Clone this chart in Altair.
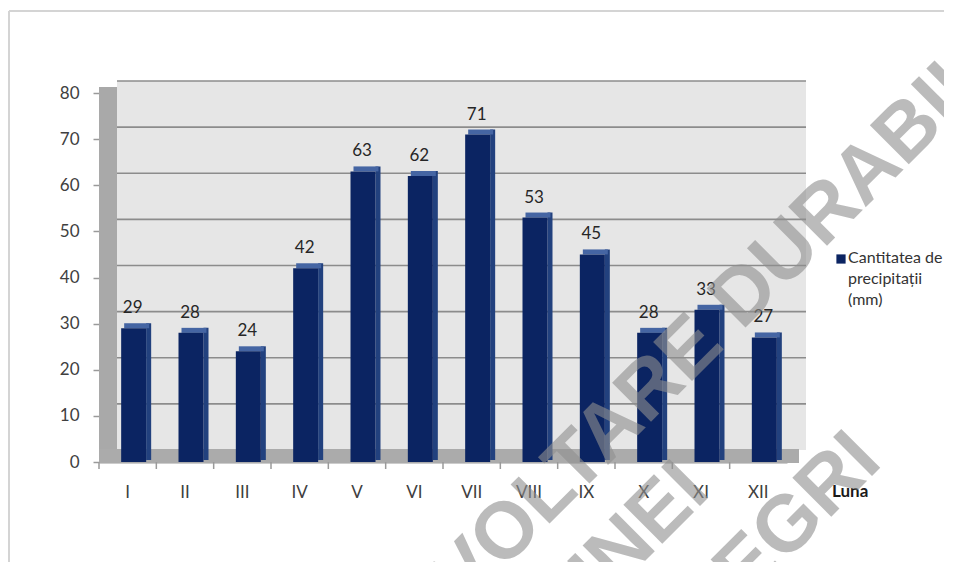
import altair as alt
import pandas as pd

# ---- data ----
months = ["I", "II", "III", "IV", "V", "VI", "VII", "VIII", "IX", "X", "XI", "XII"]
precip = [29, 28, 24, 42, 63, 62, 71, 53, 45, 28, 33, 27]
y_ticks = [0, 10, 20, 30, 40, 50, 60, 70, 80]
grid_values = [10, 20, 30, 40, 50, 60, 70, 80]
legend_lines = ["Cantitatea de", "precipitații", "(mm)"]
x_title = "Luna"
watermark_lines = ["DEZVOLTARE DURABILĂ", "A COMUNEI", "NEGRI"]

df = pd.DataFrame({"luna": months, "mm": precip})
grid_df = pd.DataFrame({"v": grid_values})
one = pd.DataFrame({"k": [0]})

W, H = 688, 369
STEP = W / len(months)
FONT = "Lato"
NAVY = "#0b2462"
PAD_R, PAD_B = 157, 100

Y_SCALE = alt.Scale(domain=[0, 80], nice=False)
Y_AXIS = alt.Axis(title=None, values=y_ticks, grid=False, domain=False,
                  tickSize=6, tickColor="#9a9a9a", tickWidth=1.5,
                  labelFont=FONT, labelFontSize=17, labelColor="#404040",
                  labelPadding=14)
X_SCALE = alt.Scale(paddingInner=0, paddingOuter=0)
X_AXIS = alt.Axis(title=None, ticks=False, labelAngle=0, labelPadding=22,
                  labelFont=FONT, labelFontSize=17, labelColor="#404040",
                  domainColor="#9a9a9a", domainWidth=2, grid=False)


def xq():
    return alt.X("luna:N", sort=months, scale=X_SCALE, axis=X_AXIS)


def yq(field="mm:Q"):
    return alt.Y(field, scale=Y_SCALE, axis=Y_AXIS)


def yd(v):
    return alt.Y(datum=v, scale=Y_SCALE, axis=Y_AXIS)


# chart frame (light grey border at top and left)
frame_left = alt.Chart(one).mark_rule(color="#d4d4d4", strokeWidth=2).encode(
    x=alt.value(-90), y=alt.value(-82), y2=alt.value(H + PAD_B))
frame_top = alt.Chart(one).mark_rule(color="#d4d4d4", strokeWidth=2).encode(
    x=alt.value(-90), x2=alt.value(W + PAD_R), y=alt.value(-82), y2=alt.value(-82))

# pseudo-3D walls
back_wall = alt.Chart(one).mark_rect(color="#e6e6e6", yOffset=-12, y2Offset=-12).encode(
    x=alt.value(18), x2=alt.value(707), y=yd(80), y2=alt.Y2(datum=0))
left_wall = alt.Chart(one).mark_rect(color="#a9a9a9", yOffset=-6, y2Offset=-6).encode(
    x=alt.value(0), x2=alt.value(18), y=yd(80), y2=alt.Y2(datum=0))
floor = alt.Chart(one).mark_rect(color="#ababab", yOffset=-13, y2Offset=1).encode(
    x=alt.value(0), x2=alt.value(700), y=yd(0), y2=alt.Y2(datum=0))
grid = alt.Chart(grid_df).mark_rule(color="#8c8c8c", strokeWidth=1.6, yOffset=-12).encode(
    y=yq("v:Q"), x=alt.value(18), x2=alt.value(707))

# x ticks between categories
xticks = alt.Chart(df).mark_rule(color="#9a9a9a", strokeWidth=1.5, xOffset=-STEP / 2).encode(
    x=xq(), y=alt.value(H), y2=alt.value(H + 7))

# bars: side face, top cap, front face
side = alt.Chart(df).mark_bar(color="#22417e", width=5, xOffset=21, yOffset=-5, y2Offset=-2).encode(
    x=xq(), y=yq(), y2=alt.Y2(datum=0))
cap = alt.Chart(df).mark_bar(color="#4565a3", width=25, xOffset=9, yOffset=-5, y2Offset=0).encode(
    x=xq(), y=yq(), y2=alt.Y2("mm:Q"))
front = alt.Chart(df).mark_bar(color=NAVY, width=25, xOffset=6).encode(
    x=xq(), y=yq(), y2=alt.Y2(datum=0))

labels = alt.Chart(df).mark_text(font=FONT, fontSize=17, color="#262626",
                                 baseline="alphabetic", dy=-15, dx=5).encode(
    x=xq(), y=yq(), text=alt.Text("mm:Q"))

luna = alt.Chart(one).mark_text(text=x_title, font=FONT, fontSize=17, fontWeight="bold",
                                color="#1a1a1a", align="left", baseline="middle").encode(
    x=alt.value(733), y=alt.value(399))

legend_sym = alt.Chart(one).mark_point(shape="square", filled=True, size=85, color=NAVY,
                                       opacity=1).encode(
    x=alt.value(742), y=alt.value(166))
legend_txt = alt.Chart(one).mark_text(text=legend_lines, font=FONT, fontSize=16, lineHeight=21,
                                      color="#333333", align="left", baseline="middle").encode(
    x=alt.value(749), y=alt.value(165))

WM = dict(font="Liberation Sans", fontWeight="bold", fontSize=80, angle=315,
          color="#8f8f8f", opacity=0.6, baseline="middle")
wm1 = alt.Chart(one).mark_text(text=watermark_lines[0], align="center", **WM).encode(
    x=alt.value(578), y=alt.value(269))
wm2 = alt.Chart(one).mark_text(text=watermark_lines[1], align="right", **WM).encode(
    x=alt.value(596), y=alt.value(384))
wm3 = alt.Chart(one).mark_text(text=watermark_lines[2], align="right", **WM).encode(
    x=alt.value(768), y=alt.value(354))

chart = alt.layer(
    frame_left, frame_top, back_wall, left_wall, floor, grid, xticks,
    side, cap, front, labels, luna, legend_sym, legend_txt, wm1, wm2, wm3
).properties(
    width=W, height=H,
    autosize=alt.AutoSizeParams(type="none"),
    padding={"left": 91, "top": 85, "right": PAD_R, "bottom": PAD_B},
    background="white",
).configure_view(stroke=None)

chart.save("out.html", embed_options={"renderer": "svg", "actions": False})
